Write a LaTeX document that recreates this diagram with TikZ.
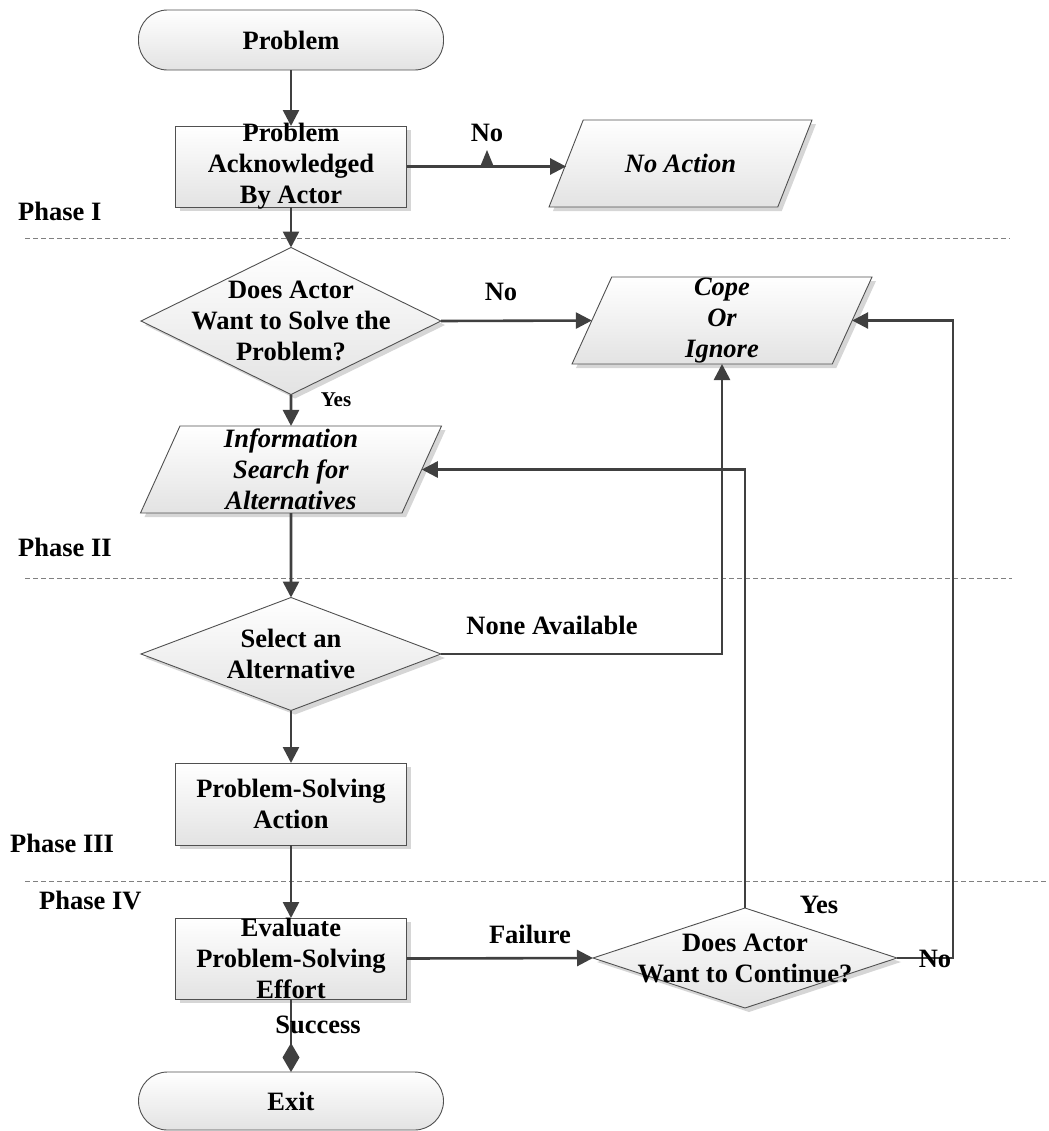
\documentclass[tikz,border=0pt]{standalone}
\usepackage{fontspec}
\setmainfont{Liberation Serif}
\usetikzlibrary{shapes.geometric,arrows.meta,shadows}
\definecolor{linec}{HTML}{404040}
\definecolor{edgec}{HTML}{505050}

\begin{document}
\begin{tikzpicture}[x=1bp,y=-1bp,
  font=\fontsize{26.5bp}{31bp}\selectfont\bfseries,
  shapebase/.style={draw=edgec, line width=0.9bp, top color=white, bottom color=black!11,
    inner sep=0pt, outer sep=0pt},
  shadowed/.style={drop shadow={shadow xshift=4bp, shadow yshift=-4bp, fill=black, opacity=0.16}},
  term/.style={shapebase, rectangle, rounded corners=29bp, minimum width=305bp, minimum height=60bp},
  procbox/.style={shapebase, shadowed, rectangle, minimum width=231bp, minimum height=81bp},
  decision/.style={shapebase, shadowed, diamond},
  iobox/.style={shapebase, shadowed, trapezium, trapezium stretches body=true, minimum height=87bp,
    align=center, font=\fontsize{26.5bp}{31bp}\selectfont\bfseries\itshape},
  txt/.style={align=center, inner sep=0pt},
  flow/.style={draw=linec, line width=2.6bp, -{Triangle[length=16bp,width=16bp]}},
  endflow/.style={draw=linec, line width=2.6bp, -{Kite[length=29bp,width=17bp,inset=14.5bp]}},
  lbl/.style={inner sep=0pt},
  smalllbl/.style={inner sep=0pt, font=\fontsize{21bp}{24bp}\selectfont\bfseries},
  phase/.style={anchor=west, inner sep=0pt},
  phaseline/.style={draw=black!50, line width=0.8bp, dash pattern=on 5bp off 3bp},
]
\useasboundingbox (0,0) rectangle (1049,1131);

% phase separators
\draw[phaseline] (25,238) -- (1010,238);
\draw[phaseline] (25,578) -- (1012,578);
\draw[phaseline] (25,881) -- (1049,881);

% phase names
\node[phase] (p1) at (18,211) {Phase I};
\node[phase] (p2) at (18,547) {Phase II};
\node[phase] (p3) at (10,843) {Phase III};
\node[phase] (p4) at (39,900) {Phase IV};

% shapes
\node[term, label={[txt]center:Problem}] (start) at (291,40) {};
\node[procbox, label={[txt]center:Problem\\Acknowledged\\By Actor}] (ack) at (291,166.5) {};
\node[iobox, inner ysep=31bp, trapezium left angle=67, trapezium right angle=113, minimum width=263bp]
  (noact) at (680.5,163.5) {No Action};
\node[decision, minimum width=300bp, minimum height=147bp,
  label={[txt]center:Does Actor\\Want to Solve the\\Problem?}] (want) at (291,321) {};
\node[iobox, trapezium left angle=65, trapezium right angle=115, minimum width=300bp]
  (cope) at (722,320.5) {Cope\\Or\\Ignore};
\node[iobox, trapezium left angle=64, trapezium right angle=116, minimum width=301bp]
  (info) at (291,469.5) {Information\\Search for\\Alternatives};
\node[decision, minimum width=300bp, minimum height=113bp,
  label={[txt]center:Select an\\Alternative}] (select) at (291,654) {};
\node[procbox, minimum height=82bp, label={[txt]center:Problem-Solving\\Action}] (act) at (291,804) {};
\node[procbox, label={[txt]center:Evaluate\\Problem-Solving\\Effort}] (eval) at (291,958.5) {};
\node[decision, minimum width=304bp, minimum height=100bp,
  label={[txt]center:Does Actor\\Want to Continue?}] (cont) at (745,958) {};
\node[term, minimum height=58bp, label={[txt]center:Exit}] (exit) at (291,1101) {};

\coordinate (noturn) at (953,958);

% connectors
\draw[flow] (start) -- (ack);
\draw[flow] (ack.east) -- (ack.east -| noact.left side);
\fill[linec] (480,167) -- (494,167) -- (487,150) -- cycle;
\draw[flow] (ack) -- (want);
\draw[flow] (want.east) -- (cope.left side);
\draw[flow] (want) -- (info);
\draw[flow] (info) -- (select);
\draw[flow] (select.east) -| (cope.south);
\draw[flow] (select) -- (act);
\draw[flow] (act) -- (eval);
\draw[flow] (eval.east) -- (cont.west);
\draw[flow] (cont.north) |- (info.right side);
\draw[flow] (cont.east) -- (noturn) |- (cope.right side);
\draw[endflow] (eval) -- (exit);

% connector labels
\node[lbl] (lno1) at (487,133) {No};
\node[lbl] (lno2) at (501,292) {No};
\node[smalllbl] (lyes1) at (336,400) {Yes};
\node[lbl] (lnone) at (552,625) {None Available};
\node[lbl] (lfail) at (530,934) {Failure};
\node[lbl] (lyes2) at (819,905) {Yes};
\node[lbl] (lno3) at (935,959) {No};
\node[lbl] (lsucc) at (318,1025) {Success};
\end{tikzpicture}
\end{document}
